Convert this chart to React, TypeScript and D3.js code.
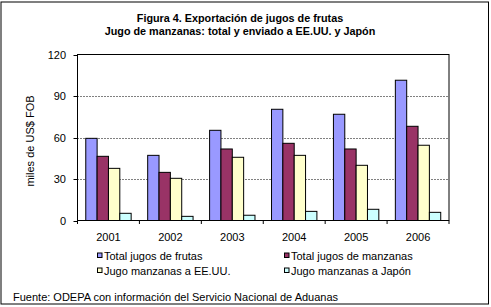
import React from "react";
import * as d3 from "d3";

const years = ["2001", "2002", "2003", "2004", "2005", "2006"];
const seriesNames = [
  "Total jugos de frutas",
  "Total jugos de manzanas",
  "Jugo manzanas a EE.UU.",
  "Jugo manzanas a Japón",
];
const totalFrutas = [59.4, 47.1, 65.2, 80.4, 76.8, 101.4];
const totalManzanas = [46.4, 34.8, 51.7, 55.8, 51.7, 68.1];
const manzanasEEUU = [37.7, 30.5, 45.7, 47.1, 39.9, 54.4];
const manzanasJapon = [5.2, 3.0, 3.8, 6.6, 8.1, 5.9];
const yTicks = [0, 30, 60, 90, 120];
const colors = ["#9999FF", "#993366", "#FFFFCC", "#CCFFFF"];

const seriesValues = [totalFrutas, totalManzanas, manzanasEEUU, manzanasJapon];

const FONT = "'Liberation Sans', Arial, sans-serif";

export default function App() {
  const W = 491;
  const H = 307;
  const plot = { left: 77.5, right: 449, top: 54.5, bottom: 220.5 };

  const x = d3.scaleBand<string>().domain(years).range([plot.left, plot.right]).padding(0);
  const y = d3.scaleLinear().domain([0, 120]).range([plot.bottom, plot.top]);
  const groupW = x.bandwidth() * 0.733;
  const inner = d3
    .scaleBand<number>()
    .domain(d3.range(seriesValues.length))
    .range([0, groupW])
    .padding(0);

  const legendItems = [
    { i: 0, mx: 97.5, ty: 255.5 },
    { i: 1, mx: 284.5, ty: 255.5 },
    { i: 2, mx: 97.5, ty: 270.5 },
    { i: 3, mx: 284.5, ty: 270.5 },
  ];

  return (
    <svg
      width={W}
      height={H}
      style={{ position: "absolute", left: 0, top: 0, background: "#fff" }}
      fontFamily={FONT}
    >
      <rect x={0} y={0} width={W} height={H} fill="#fff" />
      <rect x={1} y={2} width={487.5} height={302} fill="none" stroke="#000" strokeWidth={1} />

      <text x={240} y={22} textAnchor="middle" fontSize={10.8} fontWeight="bold" fill="#000">
        Figura 4. Exportación de jugos de frutas
      </text>
      <text x={240} y={34.5} textAnchor="middle" fontSize={10.8} fontWeight="bold" fill="#000">
        Jugo de manzanas: total y enviado a EE.UU. y Japón
      </text>

      {/* gridlines */}
      {yTicks
        .filter((t) => t > 0 && t < 120)
        .map((t) => (
          <line
            key={"g" + t}
            x1={plot.left}
            x2={plot.right}
            y1={Math.round(y(t)) + 0.5}
            y2={Math.round(y(t)) + 0.5}
            stroke="#000"
            strokeWidth={1}
            strokeDasharray="1,2"
          />
        ))}

      {/* bars */}
      {years.map((yr, ci) => {
        const gx = (x(yr) as number) + (x.bandwidth() - groupW) / 2;
        return seriesValues.map((vals, si) => {
          const v = vals[ci];
          const bx = gx + (inner(si) as number);
          return (
            <rect
              key={yr + si}
              x={bx}
              y={y(v)}
              width={inner.bandwidth()}
              height={y(0) - y(v)}
              fill={colors[si]}
              stroke="#000"
              strokeWidth={1}
            />
          );
        });
      })}

      {/* plot border */}
      <rect
        x={plot.left}
        y={plot.top}
        width={plot.right - plot.left}
        height={plot.bottom - plot.top}
        fill="none"
        stroke="#000"
        strokeWidth={1}
      />

      {/* y ticks and labels */}
      {yTicks.map((t) => (
        <g key={"y" + t}>
          <line x1={plot.left - 4} x2={plot.left} y1={Math.round(y(t)) + 0.5} y2={Math.round(y(t)) + 0.5} stroke="#000" />
          <text x={66} y={y(t) + 4} textAnchor="end" fontSize={11} fill="#000">
            {t}
          </text>
        </g>
      ))}

      {/* x ticks */}
      {years.concat(["end"]).map((yr, i) => {
        const xx = i < years.length ? (x(yr) as number) : plot.right;
        return (
          <line key={"xt" + i} x1={xx} x2={xx} y1={plot.bottom} y2={plot.bottom + 3.5} stroke="#000" />
        );
      })}
      {years.map((yr) => (
        <text
          key={"xl" + yr}
          x={(x(yr) as number) + x.bandwidth() / 2}
          y={241}
          textAnchor="middle"
          fontSize={11}
          fill="#000"
        >
          {yr}
        </text>
      ))}

      {/* y title */}
      <text
        transform="translate(34,141) rotate(-90)"
        textAnchor="middle"
        fontSize={11}
        fill="#000"
      >
        miles de US$ FOB
      </text>

      {/* legend */}
      {legendItems.map((it) => (
        <g key={"lg" + it.i}>
          <rect
            x={it.mx}
            y={it.ty - 2.5}
            width={4.5}
            height={4.5}
            fill={colors[it.i]}
            stroke="#000"
            strokeWidth={1}
          />
          <text x={it.mx + 6.5} y={it.ty + 4} fontSize={11} fill="#000">
            {seriesNames[it.i]}
          </text>
        </g>
      ))}

      <text x={13} y={301} fontSize={11} fill="#000">
        Fuente: ODEPA con información del Servicio Nacional de Aduanas
      </text>
    </svg>
  );
}
